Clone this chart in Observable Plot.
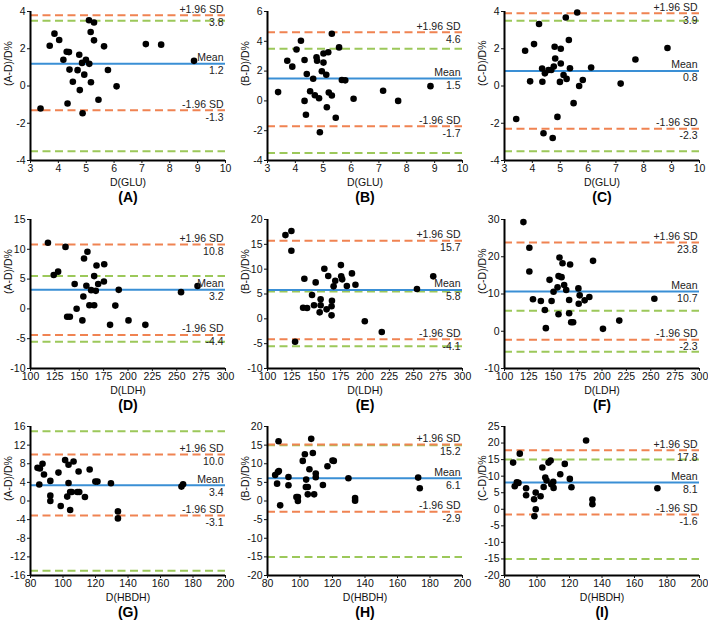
<!DOCTYPE html>
<html><head><meta charset="utf-8">
<script src="https://cdn.jsdelivr.net/npm/d3@7"></script>
<script src="https://cdn.jsdelivr.net/npm/@observablehq/plot@0.6"></script>
<style>
body{margin:0;background:#fff;}
#wrap{position:relative;width:708px;height:620px;overflow:hidden;}
.panel{position:absolute;}
</style></head><body><div id="wrap"></div>
<script>
// ---- data ----
const panelNames = ["(A)","(B)","(C)","(D)","(E)","(F)","(G)","(H)","(I)"];
const yTitles = ["(A-D)/D%","(B-D)/D%","(C-D)/D%","(A-D)/D%","(B-D)/D%","(C-D)/D%","(A-D)/D%","(B-D)/D%","(C-D)/D%"];
const xTitles = ["D(GLU)","D(GLU)","D(GLU)","D(LDH)","D(LDH)","D(LDH)","D(HBDH)","D(HBDH)","D(HBDH)"];
const meanVals  = [1.2, 1.5, 0.8, 3.2, 5.8, 10.7, 3.4, 6.1, 8.1];
const upperVals = [3.8, 4.6, 3.9, 10.8, 15.7, 23.8, 10.0, 15.2, 17.8];
const lowerVals = [-1.3, -1.7, -2.3, -4.4, -4.1, -2.3, -3.1, -2.9, -1.6];
const greenVals = [3.5, 3.5, 3.5, 5.5, 5.5, 5.5, 15, 15, 15];
const xDomains = [[3,10],[3,10],[3,10],[100,300],[100,300],[100,300],[80,200],[80,200],[80,200]];
const xSteps   = [1,1,1,25,25,25,20,20,20];
const yDomains = [[-4,4],[-4,6],[-4,4],[-10,15],[-10,20],[-10,30],[-16,16],[-20,20],[-20,25]];
const ySteps   = [2,2,2,5,5,10,4,5,5];

const ptsA = [[3.36,-1.21],[3.69,2.16],[3.86,2.81],[4.03,2.47],[4.18,1.41],[4.30,1.84],[4.38,1.82],[4.40,0.88],[4.33,-0.94],[4.52,0.23],[4.69,0.85],[4.75,1.68],[4.77,-0.22],[4.85,1.24],[4.87,-1.46],[4.93,0.61],[4.99,1.41],[5.10,3.53],[5.11,1.19],[5.16,2.90],[5.17,0.20],[5.28,3.41],[5.28,2.45],[5.44,-0.74],[5.64,2.13],[5.78,0.86],[6.09,-0.02],[7.14,2.25],[7.69,2.22],[8.87,1.35]];
const ptsB = [[3.38,0.59],[3.71,2.69],[3.89,2.30],[4.04,3.45],[4.20,4.04],[4.33,2.75],[4.33,0.0],[4.38,-0.93],[4.41,1.81],[4.53,0.65],[4.64,1.49],[4.70,0.38],[4.76,2.93],[4.78,2.69],[4.85,0.18],[4.88,-2.10],[4.95,1.99],[5.01,3.18],[5.01,2.57],[5.11,1.76],[5.13,-0.43],[5.18,3.27],[5.20,0.56],[5.31,4.51],[5.31,0.36],[5.45,-1.13],[5.57,3.59],[5.67,1.40],[5.79,1.38],[6.09,0.14],[7.15,0.68],[7.69,0.0],[8.85,0.99]];
const ptsC = [[3.42,-1.77],[3.74,1.89],[3.92,0.25],[4.06,2.25],[4.24,3.33],[4.35,0.94],[4.36,0.23],[4.40,-2.54],[4.45,0.68],[4.58,0.86],[4.68,0.86],[4.73,-2.79],[4.77,1.05],[4.80,2.11],[4.82,1.48],[4.90,-1.66],[4.99,0.22],[5.02,2.00],[5.02,1.21],[5.12,0.59],[5.20,3.68],[5.23,0.38],[5.31,2.47],[5.35,0.95],[5.48,-0.92],[5.61,3.95],[5.68,0.0],[5.81,0.32],[6.11,0.99],[7.17,0.13],[7.70,1.42],[8.85,2.04]];
const ptsD = [[117.9,11.1],[135.9,10.4],[123.8,5.7],[128.3,6.25],[154.9,8.46],[158.4,9.6],[167.7,7.27],[175.6,7.5],[145.3,4.17],[157.3,3.88],[165.3,5.5],[169.4,4.17],[175.3,4.6],[162.2,3.15],[167.0,3.03],[190.5,3.2],[154.2,2.07],[160.4,0.6],[165.3,0.6],[187.0,0.55],[147.3,0.03],[137.6,-1.32],[140.4,-1.32],[153.2,-1.93],[181.6,-2.68],[200.5,-1.93],[217.8,-2.68],[254.4,2.81],[271.3,3.83]];
const ptsE = [[118.4,16.86],[124.5,17.67],[124.5,13.7],[137.8,8.07],[149.4,7.34],[158.3,10.08],[162.3,8.61],[169.5,7.67],[167.8,6.54],[175.3,10.82],[175.6,8.55],[176.6,7.95],[181.4,6.6],[186.6,9.15],[190.2,6.86],[145.7,4.79],[136.5,2.23],[140.6,2.17],[147.7,2.72],[154.5,3.92],[154.5,2.72],[153.5,1.31],[160.6,1.91],[166.1,3.64],[165.7,2.52],[165.7,0.70],[199.8,-0.5],[217.2,-2.66],[128.3,-4.61],[253.3,6.0],[270.0,8.55]];
const ptsF = [[119.4,29.3],[125.5,22.4],[125.5,16.05],[129.2,8.58],[137.3,8.12],[141.4,5.72],[142.4,0.83],[146.2,13.8],[148.3,8.12],[150.3,10.6],[154.4,11.78],[155.4,4.57],[156.4,19.8],[155.4,14.8],[158.5,14.53],[159.5,18.27],[161.2,12.4],[163.3,11.06],[166.3,8.39],[166.3,4.84],[167.3,17.9],[168.4,2.43],[170.4,2.43],[175.8,11.5],[177.1,9.64],[176.1,7.4],[182.2,8.3],[187.0,9.19],[190.8,18.9],[201.0,0.64],[217.7,2.86],[253.7,8.74]];
const ptsG = [[84.3,7.12],[85.8,6.98],[87.4,7.99],[85.4,3.53],[88.3,5.68],[92.2,4.32],[92.2,1.15],[92.2,0.0],[97.2,6.1],[98.6,-1.08],[101.3,8.78],[102.6,0.94],[103.4,7.77],[103.4,3.88],[104.4,1.94],[105.4,1.94],[104.4,-1.94],[106.5,8.49],[108.8,1.94],[110.0,1.94],[109.6,6.33],[113.5,0.86],[116.4,6.76],[119.9,4.17],[121.2,4.17],[129.5,3.81],[133.8,-2.23],[133.8,-3.74],[172.9,3.09],[173.9,3.6]];
const ptsH = [[84.7,7.0],[85.9,4.66],[86.4,7.8],[87.0,8.07],[86.8,16.05],[87.8,-1.17],[92.9,6.46],[92.9,4.22],[97.8,1.08],[98.7,1.08],[98.7,0.0],[101.7,10.76],[103.0,12.56],[103.8,5.74],[103.6,3.77],[104.8,3.77],[104.8,1.79],[105.8,8.52],[106.9,16.68],[107.9,12.9],[108.7,1.79],[109.7,7.35],[109.7,6.37],[114.1,4.3],[116.9,9.33],[120.0,10.85],[120.8,10.76],[129.8,6.1],[133.9,0.81],[133.9,0.09],[172.7,6.28],[173.7,3.41]];
const ptsI = [[85.3,14.1],[86.3,6.96],[87.6,8.17],[88.6,7.96],[89.4,16.8],[93.3,6.35],[93.3,4.23],[98.2,3.02],[98.4,-2.1],[99.2,5.04],[99.2,0.0],[102.2,3.93],[103.3,12.6],[104.1,6.75],[105.1,9.58],[105.9,8.67],[107.1,14.1],[108.4,14.7],[108.8,7.56],[110.0,8.27],[110.2,6.45],[114.3,10.58],[117.1,13.7],[120.2,9.17],[121.2,6.65],[130.2,20.77],[134.1,2.92],[134.1,1.51],[174.1,6.35]];
const allPts = [ptsA, ptsB, ptsC, ptsD, ptsE, ptsF, ptsG, ptsH, ptsI];

// ---- styling ----
const FONT = "'Liberation Sans', Arial, Helvetica, sans-serif";
const ORANGE = "#F08352", GREEN = "#9CC85A", BLUE = "#3A8FD5";
const colLeft = [0, 237, 474], rowTop = [0, 208, 415];
const wrap = document.getElementById("wrap");

allPts.forEach((pts, i) => {
  const xd = xDomains[i], yd = yDomains[i];
  const xt = d3.range(xd[0], xd[1] + 1e-9, xSteps[i]);
  const yt = d3.range(yd[0], yd[1] + 1e-9, ySteps[i]);
  const lab = {frameAnchor: "right", textAnchor: "end", dx: -2, fontSize: 10.5, fill: "#222"};
  const chart = Plot.plot({
    width: 231, height: 212,
    marginLeft: 30, marginRight: 6, marginTop: 11, marginBottom: 52,
    style: {background: "transparent", fontFamily: FONT, fontSize: "11px", color: "#111", overflow: "visible"},
    x: {domain: xd, ticks: xt, tickFormat: d => String(d)},
    y: {domain: yd, ticks: yt, tickFormat: d => String(d)},
    marks: [
      Plot.ruleY([greenVals[i], -greenVals[i]], {stroke: GREEN, strokeWidth: 2, strokeDasharray: "8,4.5"}),
      Plot.ruleY([upperVals[i], lowerVals[i]], {stroke: ORANGE, strokeWidth: 2, strokeDasharray: "8,4.5"}),
      Plot.ruleY([meanVals[i]], {stroke: BLUE, strokeWidth: 2}),
      Plot.dot(pts, {x: d => d[0], y: d => d[1], r: 3.3, fill: "#000", stroke: null}),
      Plot.text([upperVals[i]], {y: d => d, text: () => "+1.96 SD", dy: -6, ...lab}),
      Plot.text([upperVals[i]], {y: d => d, text: d => d.toFixed(1), dy: 7, ...lab}),
      Plot.text([meanVals[i]], {y: d => d, text: () => "Mean", dy: -6, ...lab}),
      Plot.text([meanVals[i]], {y: d => d, text: d => d.toFixed(1), dy: 7, ...lab}),
      Plot.text([lowerVals[i]], {y: d => d, text: () => "-1.96 SD", dy: -6, ...lab}),
      Plot.text([lowerVals[i]], {y: d => d, text: d => d.toFixed(1), dy: 7, ...lab}),
      Plot.ruleX([xd[0]], {stroke: "#000", strokeWidth: 2}),
      Plot.ruleY([yd[0]], {stroke: "#000", strokeWidth: 2}),
      Plot.axisX({ticks: xt, tickFormat: d => String(d), tickSize: 3, tickPadding: 1, label: null, fontSize: 10.5, fill: "#111"}),
      Plot.axisY({ticks: yt, tickFormat: d => String(d), tickSize: 3, tickPadding: 2, label: null, fontSize: 10.5, fill: "#111"}),
      Plot.text([xTitles[i]], {text: d => d, frameAnchor: "bottom", dy: 25, fontSize: 10.5, fill: "#111"}),
      Plot.text([yTitles[i]], {text: d => d, frameAnchor: "left", rotate: -90, dx: -22, fontSize: 10.5, fill: "#111"}),
      Plot.text([panelNames[i]], {text: d => d, frameAnchor: "bottom", dy: 41, fontSize: 14, fontWeight: "bold", fill: "#000"})
    ]
  });
  const div = document.createElement("div");
  div.className = "panel";
  div.style.left = colLeft[i % 3] + "px";
  div.style.top = rowTop[Math.floor(i / 3)] + "px";
  div.appendChild(chart);
  wrap.appendChild(div);
});
</script></body></html>
